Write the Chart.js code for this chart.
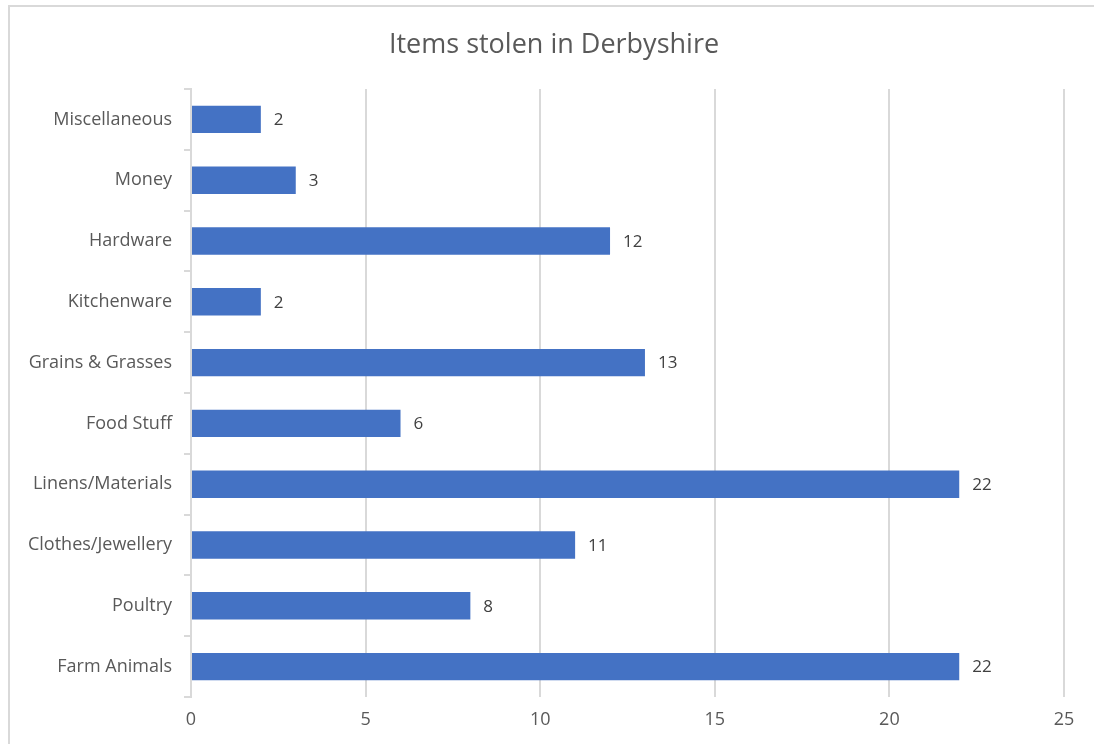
<!DOCTYPE html>
<html>
<head>
<meta charset="utf-8">
<script src="https://cdn.jsdelivr.net/npm/chart.js@4/dist/chart.umd.min.js"></script>
<style>
  html, body { margin: 0; padding: 0; background: #fff; }
  #wrap { width: 1094px; height: 744px; }
</style>
</head>
<body>
<div id="wrap"><canvas id="chart1" width="1094" height="744"></canvas></div>
<script>
var categories = ["Miscellaneous", "Money", "Hardware", "Kitchenware", "Grains & Grasses",
                  "Food Stuff", "Linens/Materials", "Clothes/Jewellery", "Poultry", "Farm Animals"];
var itemsStolen = [2, 3, 12, 2, 13, 6, 22, 11, 8, 22];
var xTicks = [0, 5, 10, 15, 20, 25];
var chartTitle = 'Items stolen in Derbyshire';

var FONT = "'Open Sans', 'Liberation Sans', sans-serif";

// white background, light frame and the title centred on the whole canvas
var framePlugin = {
    id: 'frame',
    beforeDraw: function (chart) {
        var c = chart.ctx;
        c.save();
        c.fillStyle = '#ffffff';
        c.fillRect(0, 0, chart.width, chart.height);
        c.strokeStyle = '#d9d9d9';
        c.lineWidth = 2;
        c.strokeRect(9, 6, chart.width + 20, chart.height + 20);
        c.font = '27px ' + FONT;
        c.fillStyle = '#595959';
        c.textAlign = 'center';
        c.textBaseline = 'middle';
        c.fillText(chartTitle, 554, 45);
        c.restore();
    }
};

// value written just past the end of each bar
var valueLabels = {
    id: 'valueLabels',
    afterDatasetsDraw: function (chart) {
        var c = chart.ctx;
        var meta = chart.getDatasetMeta(0);
        c.save();
        c.font = '17px ' + FONT;
        c.fillStyle = '#404040';
        c.textAlign = 'left';
        c.textBaseline = 'middle';
        meta.data.forEach(function (bar, i) {
            c.fillText(String(itemsStolen[i]), bar.x + 13, bar.y + 1);
        });
        c.restore();
    }
};

var ctx = document.getElementById("chart1").getContext('2d');
var chart1 = new Chart(ctx, {
    type: 'bar',
    data: {
        labels: categories,
        datasets: [{
            label: 'Items stolen',
            data: itemsStolen,
            backgroundColor: '#4472c4',
            borderWidth: 0,
            categoryPercentage: 0.9,
            barPercentage: 0.5
        }]
    },
    options: {
        indexAxis: 'y',
        responsive: false,
        animation: false,
        layout: { padding: { left: 0, right: 30, top: 89, bottom: 0 } },
        plugins: {
            legend: { display: false },
            tooltip: { enabled: false },
            title: { display: false }
        },
        scales: {
            x: {
                min: 0,
                max: 25,
                afterBuildTicks: function (scale) {
                    scale.ticks = xTicks.map(function (v) { return { value: v }; });
                },
                afterFit: function (scale) { scale.height = 47; },
                grid: {
                    color: '#d9d9d9',
                    lineWidth: 2,
                    drawTicks: false
                },
                border: { display: false },
                ticks: {
                    color: '#595959',
                    padding: 12,
                    font: { family: FONT, size: 18 }
                }
            },
            y: {
                afterFit: function (scale) { scale.width = 191; },
                grid: {
                    drawOnChartArea: false,
                    drawTicks: true,
                    tickLength: 7,
                    color: '#d9d9d9',
                    lineWidth: 2,
                    offset: true
                },
                border: { display: true, color: '#d9d9d9', width: 2 },
                ticks: {
                    color: '#595959',
                    padding: 12,
                    font: { family: FONT, size: 18 }
                }
            }
        }
    },
    plugins: [framePlugin, valueLabels]
});
</script>
</body>
</html>
